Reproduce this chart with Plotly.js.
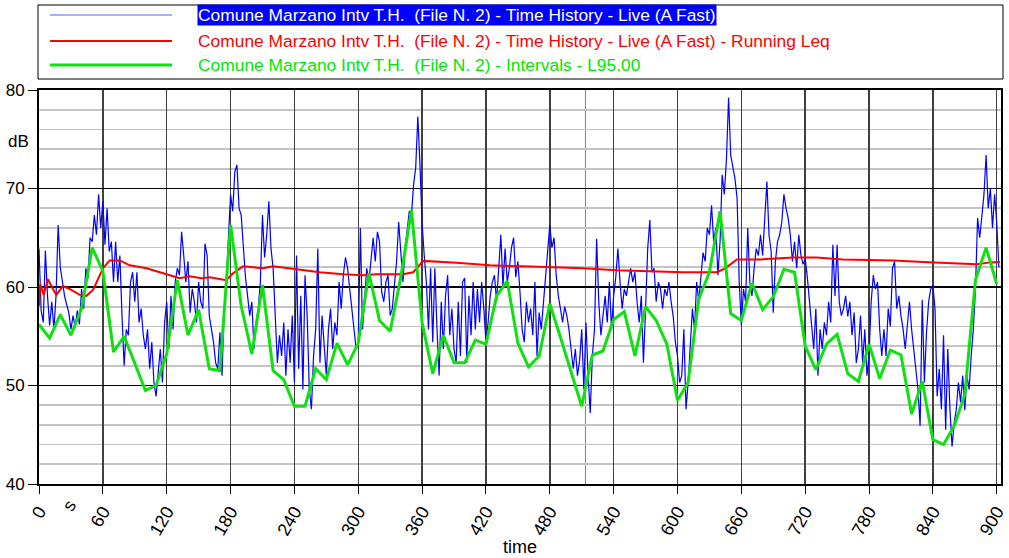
<!DOCTYPE html>
<html><head><meta charset="utf-8">
<script src="https://cdn.plot.ly/plotly-3.0.1.min.js"></script>
<style>html,body{margin:0;padding:0;background:#fff}#chart{width:1009px;height:558px}</style>
</head><body><div id="chart"></div><script>
const seriesNames = [
  "Comune Marzano Intv T.H.  (File N. 2) - Time History - Live (A Fast)",
  "Comune Marzano Intv T.H.  (File N. 2) - Time History - Live (A Fast) - Running Leq",
  "Comune Marzano Intv T.H.  (File N. 2) - Intervals - L95.00"
];
// Live (A Fast) time history, sampled every 2 s from 0 s
const liveStart = 0, liveStep = 2;
const liveValues = [
 63.9,57.6,56.4,63.7,59.1, 56.1,58.5,55.7,59.1,66.3, 62.0,60.5,59.1,58.2,57.4, 55.7,57.1,55.9,57.6,56.2,
 59.8,57.8,61.9,60.9,65.0, 64.6,67.3,65.3,69.4,66.0, 68.7,64.3,68.0,63.6,64.6, 60.5,64.6,60.5,63.2,57.1,
 52.0,55.7,55.1,60.5,61.5, 58.5,61.5,56.4,57.8,55.1, 53.7,55.7,51.7,54.4,50.3, 48.9,51.0,53.7,50.3,56.4,
 58.5,53.7,59.1,55.7,60.5, 61.9,61.2,65.6,63.2,60.5, 62.6,57.4,59.8,58.5,56.4, 60.5,58.5,57.8,64.4,63.2,
 57.1,55.7,54.4,52.3,51.7, 55.4,51.0,57.8,60.5,65.0, 69.4,67.7,71.7,72.4,68.0, 67.3,64.3,61.0,59.1,57.1,
 58.5,53.7,56.4,57.8,60.5, 67.3,63.0,65.3,68.7,63.9, 61.9,57.1,52.3,55.1,53.0, 56.4,51.0,55.7,52.3,57.1,
 50.3,63.2,51.7,59.1,49.6, 61.2,57.1,49.6,47.6,53.0, 55.7,63.9,52.3,57.1,53.7, 51.0,55.7,57.8,53.7,56.4,
 55.1,60.5,57.8,61.2,63.0, 61.9,59.8,57.8,55.1,53.7, 54.4,66.0,55.7,58.5,61.9, 60.5,63.2,65.0,62.6,65.6,
 64.6,59.5,58.5,60.5,61.2, 57.1,57.8,60.5,62.6,66.6, 63.9,60.5,63.9,66.0,67.7, 67.3,70.4,72.1,77.3,72.4,
 66.5,63.2,60.5,55.7,61.9, 54.4,61.9,55.7,51.0,58.5, 53.7,59.1,61.2,55.1,57.8, 53.7,52.3,58.5,53.0,60.5,
 60.9,52.3,59.1,55.1,60.5, 55.7,59.8,56.4,60.5,57.8, 54.4,56.4,59.1,60.5,61.2, 58.5,62.6,65.3,60.0,63.9,
 60.5,61.9,64.0,65.0,61.0, 62.6,59.5,55.7,54.4,58.5, 56.4,57.8,55.1,60.5,53.0, 57.4,55.7,58.5,61.2,63.2,
 66.3,64.0,65.0,61.2,59.1, 57.8,56.4,58.0,57.1,55.7, 53.7,51.7,53.7,51.0,52.5, 55.7,49.6,56.4,51.0,47.2,
 53.0,55.7,64.9,58.5,55.1, 57.1,59.1,56.4,60.5,55.7, 59.1,61.0,63.9,60.5,57.8, 59.8,59.1,60.5,61.9,60.5,
 61.5,58.5,56.4,59.1,52.3, 57.8,63.9,66.8,61.5,61.9, 58.5,60.5,59.8,57.8,59.8, 59.1,60.5,58.5,57.0,54.4,
 53.0,50.3,51.0,55.7,47.6, 50.3,53.7,57.8,55.7,60.5, 58.5,61.2,63.5,62.6,66.0, 65.3,68.3,64.6,66.0,61.2,
 64.6,71.4,69.4,73.0,79.2, 73.4,72.1,71.0,69.0,60.5, 56.1,59.8,58.5,66.0,60.5, 59.1,61.9,63.9,63.2,65.3,
 63.2,66.6,70.7,65.3,63.6, 57.4,62.6,64.6,65.3,66.6, 69.4,68.0,67.0,65.3,62.6, 64.6,61.9,65.3,63.2,62.3,
 62.9,61.0,58.5,56.4,53.7, 57.8,51.0,55.7,53.7,56.4, 55.1,58.5,56.4,64.3,59.1, 64.3,58.5,57.1,57.8,59.1,
 57.0,58.5,55.1,57.4,52.3, 53.7,57.1,52.3,55.7,51.0, 53.0,58.5,61.2,59.8,60.5, 55.7,53.0,55.7,53.0,57.8,
 56.0,61.9,62.6,57.8,59.1, 57.1,55.7,53.7,56.4,58.5, 55.7,53.7,51.7,49.6,45.9, 58.7,50.3,55.4,58.5,59.8,
 60.2,57.8,48.9,51.7,47.6, 55.1,45.5,53.7,47.6,43.8, 46.2,47.6,50.3,48.3,51.0, 47.5,51.0,49.6,53.0,55.7,
 59.8,67.0,65.0,67.5,69.4, 73.4,68.0,70.0,66.0,69.4, 66.5,62.0
];
// Running Leq
const leqTimes = [0,1.2,4.4,8.4,12,16.3,22.5,28.8,38.2,44.5,50.8,55,60.1,66.4,75.8,85.2,101,123,132,141.6,152.6,160.5,176,182.4,191.8,210.6,220,242,263.9,285.9,304,317,342,351.7,356.4,361,392.4,423.8,454.5,480,511.6,543,574.4,605,637,644.8,655.8,677.7,709,731,755.5,803,841,881.5,894,903];
const leqValues = [58.1,60.3,59.2,60.8,60.0,59.2,60.1,59.8,59.2,59.1,59.7,60.7,61.9,62.7,62.7,62.2,61.9,61.2,60.9,61.1,60.9,61.0,60.7,61.4,62.1,61.9,62.1,61.8,61.5,61.3,61.2,61.3,61.3,61.5,62.1,62.65,62.45,62.2,62.1,62.0,61.9,61.7,61.6,61.5,61.5,61.9,62.8,62.8,63.0,63.0,62.8,62.7,62.5,62.3,62.5,62.55];
// L95 intervals, one value every 10 s from 0 s
const l95Start = 0, l95Step = 10;
const l95Values = [56.2,54.8,57.2,55.1,57.8,64.0,61.6,53.4,55.0,52.3,49.5,50.0,53.2,60.7,55.1,57.7,51.7,51.5,66.3,58.1,
 53.2,60.2,51.5,50.6,47.9,47.9,51.7,50.6,54.3,52.1,54.3,61.4,56.6,55.5,61.0,67.8,56.4,51.2,55.1,52.3,
 52.3,54.6,54.2,59.1,60.6,54.3,51.9,53.0,58.3,54.9,51.3,47.9,53.1,53.5,56.7,57.5,53.0,58.0,56.6,54.2,
 48.5,50.3,58.8,61.5,67.7,57.3,56.6,60.4,57.7,59.0,61.8,61.5,54.0,51.6,54.2,55.2,51.2,50.4,54.2,50.7,
 53.6,53.1,47.1,50.4,44.5,44.0,45.9,49.1,60.7,64.0,60.3];
const xTickVals = [0,60,120,180,240,300,360,420,480,540,600,660,720,780,840,900];
const xTickText = ["0","60","120","180","240","300","360","420","480","540","600","660","720","780","840","900"];
const yTickVals = [40,50,60,70,80];
const yTickText = ["40","50","60","70","80"];
const markerTime = 513.5;
const xUnit = "s", yUnit = "dB", xTitle = "time";

const liveTimes = liveValues.map((_, i) => liveStart + i * liveStep);
const l95Times = l95Values.map((_, i) => l95Start + i * l95Step);

const L = 39, T = 90, W = 962, H = 394;
const px = x => (x - L) / W;
const py = y => (T + H - y) / H;
const narrow = "Liberation Sans Narrow, Arial Narrow, Liberation Sans, Arial, sans-serif";
const regular = "Liberation Sans, Arial, sans-serif";
const colors = ["#0000ff", "#ff0000", "#10e010"];
const legendTextColors = ["#ffffff", "#ff0000", "#00e600"];
const legendY = [15, 41, 65];
const legendW = [1, 2, 3];

const traces = [
  {x: liveTimes, y: liveValues, type: "scatter", mode: "lines", line: {color: colors[0], width: 1.2}, name: seriesNames[0]},
  {x: leqTimes, y: leqValues, type: "scatter", mode: "lines", line: {color: colors[1], width: 2}, name: seriesNames[1]},
  {x: l95Times, y: l95Values, type: "scatter", mode: "lines", line: {color: colors[2], width: 3}, name: seriesNames[2]}
];

const shapes = [
  {type: "line", xref: "x", yref: "paper", x0: markerTime, x1: markerTime, y0: 0, y1: 1, line: {color: "#808080", width: 1}, layer: "below"},
  {type: "rect", xref: "paper", yref: "paper", x0: px(38), x1: px(1003), y0: py(79), y1: py(5), line: {color: "#000", width: 1}, fillcolor: "rgba(0,0,0,0)"}
];
const annotations = [];
seriesNames.forEach((n, i) => {
  shapes.push({type: "line", xref: "paper", yref: "paper", x0: px(50), x1: px(172), y0: py(legendY[i]), y1: py(legendY[i]),
    line: {color: i === 0 ? "#5a5aff" : colors[i], width: legendW[i]}});
  annotations.push({xref: "paper", yref: "paper", x: px(197), y: py(legendY[i]), xanchor: "left", yanchor: "middle",
    text: n, showarrow: false, font: {family: narrow, size: 17.4, color: legendTextColors[i]},
    bgcolor: i === 0 ? "#0000ff" : "rgba(0,0,0,0)", borderpad: 0});
});
annotations.push({xref: "paper", yref: "paper", x: px(18), y: py(141), text: yUnit, showarrow: false,
  font: {family: regular, size: 17, color: "#000"}, xanchor: "center", yanchor: "middle"});
annotations.push({xref: "paper", yref: "paper", x: px(69), y: py(506), text: xUnit, showarrow: false, textangle: -60,
  font: {family: narrow, size: 18, color: "#000"}, xanchor: "center", yanchor: "middle"});
annotations.push({xref: "paper", yref: "paper", x: px(520), y: py(547), text: xTitle, showarrow: false,
  font: {family: narrow, size: 18, color: "#000"}, xanchor: "center", yanchor: "middle"});

const layout = {
  width: 1009, height: 558,
  margin: {l: L, r: 1009 - L - W, t: T, b: 558 - T - H, pad: 0},
  paper_bgcolor: "#fff", plot_bgcolor: "#fff",
  showlegend: false,
  xaxis: {range: [0, 904], tickmode: "array", tickvals: xTickVals, ticktext: xTickText, tickangle: -60,
    tickfont: {family: narrow, size: 18, color: "#000"}, ticks: "outside", ticklen: 8, tickcolor: "#000", tickwidth: 1,
    showgrid: true, gridcolor: "#404040", gridwidth: 1.5, zeroline: false,
    showline: true, linecolor: "#000", linewidth: 2, mirror: true},
  yaxis: {range: [40, 80], tickmode: "array", tickvals: yTickVals, ticktext: yTickText,
    tickfont: {family: regular, size: 17, color: "#000"}, ticks: "outside", ticklen: 9, tickcolor: "#000", tickwidth: 1,
    showgrid: true, gridcolor: "#000", gridwidth: 1.3, zeroline: false,
    minor: {dtick: 2, tick0: 40, showgrid: true, gridcolor: "#c4c4c4", gridwidth: 1.6, ticks: ""},
    showline: true, linecolor: "#000", linewidth: 2, mirror: true},
  shapes: shapes,
  annotations: annotations
};
Plotly.newPlot("chart", traces, layout, {staticPlot: true, displayModeBar: false});
</script></body></html>
